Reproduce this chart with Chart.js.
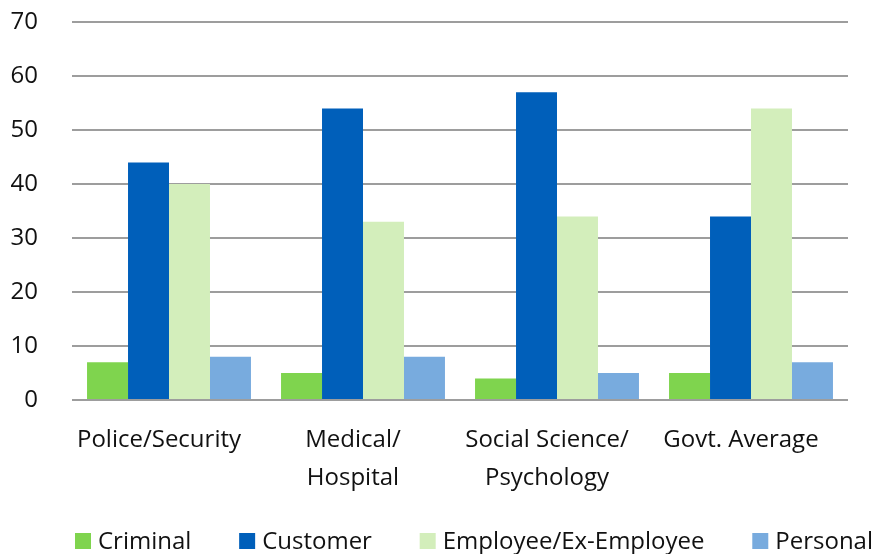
<!DOCTYPE html>
<html>
<head>
<meta charset="utf-8">
<script src="https://cdn.jsdelivr.net/npm/chart.js@4"></script>
<style>
  html, body { margin: 0; padding: 0; background: #fff; }
  #wrap { width: 875px; height: 554px; }
</style>
</head>
<body>
<div id="wrap"><canvas id="myChart" width="875" height="554"></canvas></div>
<script>
/* данные графика */
const categories = [["Police/Security"], ["Medical/", "Hospital"], ["Social Science/", "Psychology"], ["Govt. Average"]];
const criminal = [7, 5, 4, 5];
const customer = [44, 54, 57, 34];
const employee = [40, 33, 34, 54];
const personal = [8, 8, 5, 7];
const yTicks = [0, 10, 20, 30, 40, 50, 60, 70];

const FONT = "'Open Sans', sans-serif";

function makeSet(label, data, color) {
      return { label: label, data: data, backgroundColor: color, borderWidth: 0 };
}

/* легенда внизу: квадрат + подпись, растянута от левого края до правого */
const bottomLegend = {
      id: "bottomLegend",
      afterDraw(chart) {
            const ctx = chart.ctx;
            const sets = chart.data.datasets;
            const startX = 75, endX = 873, midY = 541, box = 16, gapText = 7;
            ctx.save();
            ctx.font = "24px " + FONT;
            ctx.textBaseline = "middle";
            ctx.textAlign = "left";
            const widths = sets.map(d => ctx.measureText(d.label).width);
            const used = widths.reduce((a, b) => a + b, 0) + sets.length * (box + gapText);
            const gap = (endX - startX - used) / (sets.length - 1);
            let x = startX;
            sets.forEach((d, i) => {
                  ctx.fillStyle = d.backgroundColor;
                  ctx.fillRect(x, midY - box / 2, box, box);
                  ctx.fillStyle = "#111";
                  ctx.fillText(d.label, x + box + gapText, midY + 1);
                  x += box + gapText + widths[i] + gap;
            });
            ctx.restore();
      }
};

const canvaNode = document.getElementById("myChart");

const chart = new Chart(canvaNode, {
      type: "bar",
      data: {
            labels: categories,
            datasets: [
                  makeSet("Criminal", criminal, "#7fd44e"),
                  makeSet("Customer", customer, "#005fba"),
                  makeSet("Employee/Ex-Employee", employee, "#d3eebb"),
                  makeSet("Personal", personal, "#78abde")
            ]
      },
      plugins: [bottomLegend],
      options: {
            responsive: false,
            animation: false,
            layout: { padding: { left: 0, right: 27, top: 22, bottom: 54 } },
            datasets: { bar: { barPercentage: 1, categoryPercentage: 0.845 } },
            plugins: {
                  tooltip: { enabled: false },
                  legend: { display: false }
            },
            scales: {
                  x: {
                        grid: { display: false, drawTicks: false },
                        border: { display: false },
                        afterFit: (s) => { s.height = 100; s.paddingLeft = 0; s.paddingRight = 0; },
                        ticks: {
                              color: "#111",
                              font: { family: FONT, size: 24, lineHeight: 1.58 },
                              padding: 21,
                              labelOffset: -10,
                              maxRotation: 0,
                              autoSkip: false
                        }
                  },
                  y: {
                        min: 0,
                        max: 70,
                        afterBuildTicks: (s) => { s.ticks = yTicks.map(v => ({ value: v })); },
                        afterFit: (s) => { s.width = 72; s.paddingTop = 0; s.paddingBottom = 0; },
                        grid: { color: "#9d9d9d", lineWidth: 2, drawTicks: false },
                        border: { display: false },
                        ticks: {
                              color: "#111",
                              font: { family: FONT, size: 24 },
                              padding: 34
                        }
                  }
            }
      }
});
</script>
</body>
</html>
